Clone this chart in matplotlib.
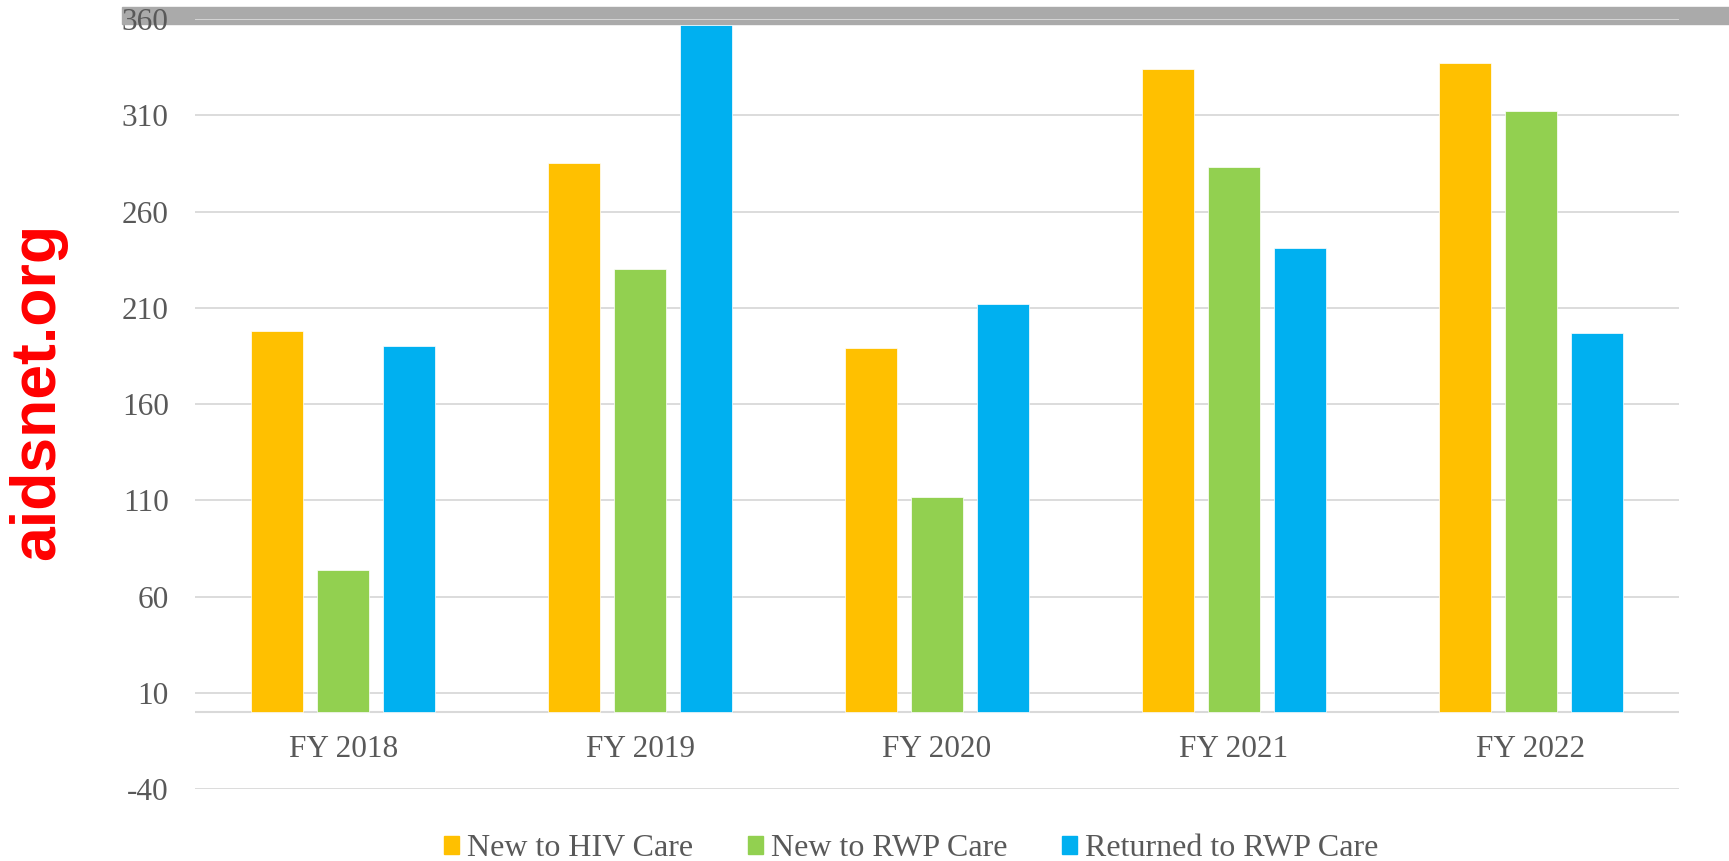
import matplotlib.pyplot as plt
import numpy as np
from matplotlib.patches import Rectangle

# data
years = ["FY 2018", "FY 2019", "FY 2020", "FY 2021", "FY 2022"]
new_hiv = [198, 285, 189, 334, 337]
new_rwp = [74, 230, 112, 283, 312]
returned_rwp = [190, 357, 212, 241, 197]
series_names = ["New to HIV Care", "New to RWP Care", "Returned to RWP Care"]
colors = ["#FFC000", "#92D050", "#00B0F0"]
yticks = list(range(-40, 361, 50))

plt.rcParams['font.family'] = ['Liberation Serif', 'DejaVu Serif']

fig = plt.figure(figsize=(17.29, 8.61), dpi=100)
ax = fig.add_axes([0.1128, 0.0833, 0.9711 - 0.1128, 0.978 - 0.0833])

# grey band at the top, behind the axes
fig.patches.append(Rectangle((0.0706, 0.972), 1 - 0.0706, 0.0198,
                             transform=fig.transFigure, color="#AAAAAA", zorder=-5))

x = np.arange(len(years))
w = 0.175
off = 0.2224
for i, (vals, c) in enumerate(zip([new_hiv, new_rwp, returned_rwp], colors)):
    ax.bar(x + (i - 1) * off, vals, width=w, color=c, edgecolor="white",
           linewidth=0.5, label=series_names[i], zorder=3)

ax.set_xlim(-0.5, len(years) - 0.5)
ax.set_ylim(-40, 360)
ax.set_yticks(yticks)
ax.set_yticklabels([str(t) for t in yticks])
ax.grid(axis="y", color="#D9D9D9", linewidth=1.3, zorder=0)
ax.axhline(0, color="#D9D9D9", linewidth=1.5, zorder=2)
ax.set_axisbelow(True)
for s in ax.spines.values():
    s.set_visible(False)
ax.patch.set_alpha(0)
ax.tick_params(axis="y", length=0, pad=19, labelsize=22.5, labelcolor="#595959")
ax.set_xticks([])
for i, yr in enumerate(years):
    ax.text(i, -19.6, yr, ha="center", va="center", fontsize=22.5, color="#595959")

handles = [Rectangle((0, 0), 1, 1, color=c) for c in colors]
leg = fig.legend(handles, series_names, loc="center", bbox_to_anchor=(0.527, 0.014),
                 ncol=3, frameon=False, fontsize=23, handlelength=0.47,
                 handleheight=0.47, handletextpad=0.25, columnspacing=1.7)
for t in leg.get_texts():
    t.set_color("#595959")

fig.text(0.022, 0.545, "aidsnet.org", rotation=90, ha="center", va="center",
         fontsize=45, fontweight="bold", color="red", family="Liberation Sans")

fig.savefig("out.png", dpi=100)
